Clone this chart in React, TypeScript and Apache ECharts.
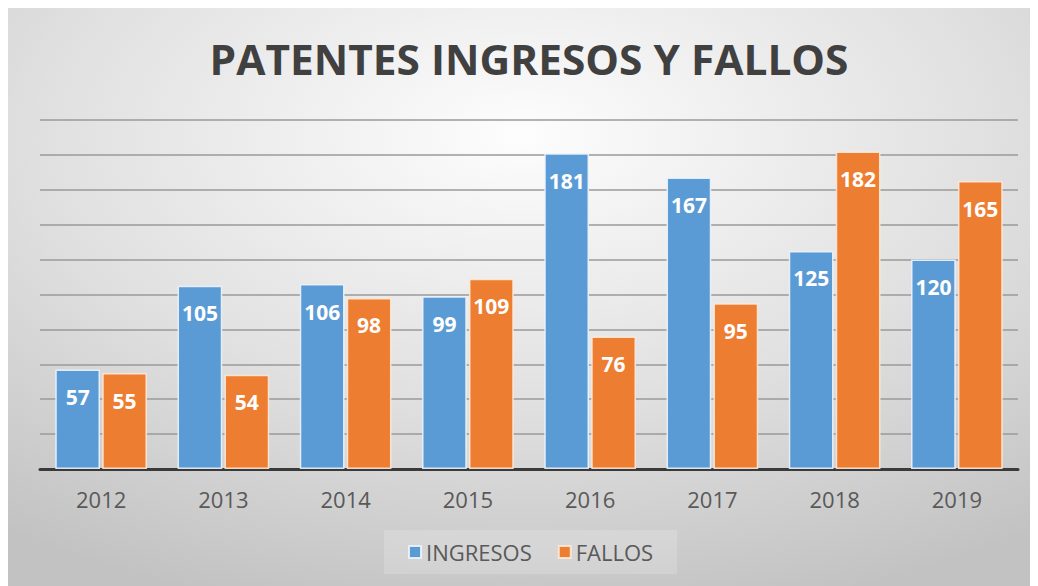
import React, { useEffect, useRef } from "react";
import * as echarts from "echarts";

const categories = ["2012", "2013", "2014", "2015", "2016", "2017", "2018", "2019"];
const ingresos = [57, 105, 106, 99, 181, 167, 125, 120];
const fallos = [55, 54, 98, 109, 76, 95, 182, 165];
const seriesNames = ["INGRESOS", "FALLOS"];
const titleText = "PATENTES INGRESOS Y FALLOS";

export default function App() {
  const ref = useRef<HTMLDivElement>(null);
  useEffect(() => {
    if (!ref.current) return;
    const chart = echarts.init(ref.current, null, { renderer: "svg" });
    const labelStyle = {
      show: true,
      position: "insideTop",
      distance: 17,
      color: "#ffffff",
      fontFamily: "Open Sans",
      fontWeight: "bold",
      fontSize: 21,
    };
    chart.setOption({
      animation: false,
      backgroundColor: {
        type: "radial",
        x: 0.5,
        y: 0.22,
        r: 0.85,
        colorStops: [
          { offset: 0, color: "#fdfdfd" },
          { offset: 0.55, color: "#e0e0e0" },
          { offset: 1, color: "#c2c2c2" },
        ],
      },
      graphic: [
        {
          type: "text",
          x: 521,
          y: 51,
          scaleX: 1.01,
          style: {
            text: titleText,
            font: 'bold 42px "Open Sans"',
            fill: "#404040",
            align: "center",
            verticalAlign: "middle",
          },
        },
      ],
      legend: {
        data: seriesNames,
        bottom: 12,
        left: 376,
        itemWidth: 12,
        itemHeight: 12,
        itemGap: 26,
        icon: "rect",
        padding: [11, 24, 11, 24],
        backgroundColor: "rgba(255,255,255,0.18)",
        textStyle: { color: "#595959", fontSize: 22, fontFamily: "Open Sans" },
      },
      grid: { left: 32, right: 14, top: 112, bottom: 117, containLabel: false },
      xAxis: {
        type: "category",
        data: categories,
        axisLine: { show: true, lineStyle: { color: "#3a3a3a", width: 3 } },
        axisTick: { show: false },
        axisLabel: { color: "#595959", fontSize: 22, fontFamily: "Open Sans", margin: 19 },
      },
      yAxis: {
        type: "value",
        min: 0,
        max: 200,
        interval: 20,
        axisLabel: { show: false },
        axisLine: { show: false },
        axisTick: { show: false },
        splitLine: { show: true, lineStyle: { color: "#9a9a9a", width: 1.5 } },
      },
      series: [
        {
          name: seriesNames[0],
          type: "bar",
          data: ingresos,
          barGap: "5%",
          barCategoryGap: "25%",
          itemStyle: { color: "#5b9bd5", borderColor: "rgba(235,243,252,0.9)", borderWidth: 1.5 },
          label: labelStyle,
        },
        {
          name: seriesNames[1],
          type: "bar",
          data: fallos,
          itemStyle: { color: "#ed7d31", borderColor: "rgba(253,232,215,0.9)", borderWidth: 1.5 },
          label: labelStyle,
        },
      ],
    });
    return () => chart.dispose();
  }, []);
  return <div ref={ref} style={{ width: 1024, height: 578 }} />;
}
